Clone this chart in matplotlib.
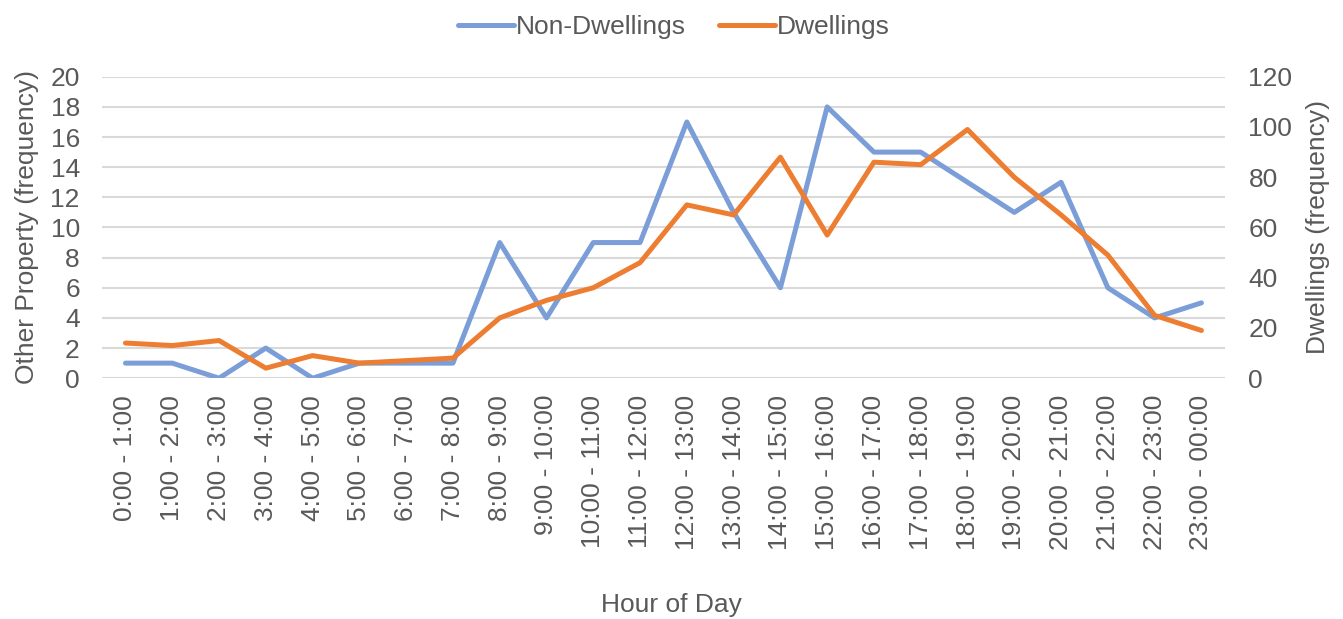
import matplotlib
matplotlib.use('Agg')
import matplotlib.pyplot as plt

plt.rcParams['font.family'] = ['Liberation Sans', 'DejaVu Sans']

hours = ['0:00 - 1:00', '1:00 - 2:00', '2:00 - 3:00', '3:00 - 4:00', '4:00 - 5:00',
         '5:00 - 6:00', '6:00 - 7:00', '7:00 - 8:00', '8:00 - 9:00', '9:00 - 10:00',
         '10:00 - 11:00', '11:00 - 12:00', '12:00 - 13:00', '13:00 - 14:00',
         '14:00 - 15:00', '15:00 - 16:00', '16:00 - 17:00', '17:00 - 18:00',
         '18:00 - 19:00', '19:00 - 20:00', '20:00 - 21:00', '21:00 - 22:00',
         '22:00 - 23:00', '23:00 - 00:00']
non_dwellings = [1, 1, 0, 2, 0, 1, 1, 1, 9, 4, 9, 9, 17, 11, 6, 18, 15, 15, 13, 11, 13, 6, 4, 5]
dwellings = [14, 13, 15, 4, 9, 6, 7, 8, 24, 31, 36, 46, 69, 65, 88, 57, 86, 85, 99, 80, 65, 49, 25, 19]

blue = '#7B9ED8'
orange = '#ED7D31'
grey = '#595959'
fs = 19

fig = plt.figure(figsize=(13.43, 6.19), dpi=100)
ax = fig.add_axes([0.076, 0.389, 0.836, 0.487])
ax2 = ax.twinx()

x = range(len(hours))
l1, = ax.plot(x, non_dwellings, color=blue, lw=3.6, solid_capstyle='round', label='Non-Dwellings')
l2, = ax2.plot(x, dwellings, color=orange, lw=3.6, solid_capstyle='round', label='Dwellings')

ax.set_ylim(0, 20)
ax.set_yticks(range(0, 21, 2))
ax2.set_ylim(0, 120)
ax2.set_yticks(range(0, 121, 20))
ax.set_xlim(-0.5, len(hours) - 0.5)
ax.set_xticks(list(x))
ax.set_xticklabels(hours, rotation=90)

ax.yaxis.grid(True, color='#D9D9D9', lw=1.5)
ax.set_axisbelow(True)
for a in (ax, ax2):
    for s in a.spines.values():
        s.set_visible(False)
    a.tick_params(length=0, labelsize=fs, colors=grey)
ax.tick_params(axis='y', pad=16)
ax2.tick_params(axis='y', pad=17)
ax.tick_params(axis='x', pad=12)

ax.set_ylabel('Other Property (frequency)', fontsize=fs, color=grey, labelpad=8)
ax2.set_ylabel('Dwellings (frequency)', fontsize=fs, color=grey, labelpad=10)
fig.text(0.5, 1 - 605 / 619, 'Hour of Day', fontsize=fs, color=grey, ha='center', va='center')

fig.legend(handles=[l1, l2], loc='center', bbox_to_anchor=(0.502, 1 - 27 / 619), ncol=2,
           frameon=False, fontsize=fs, labelcolor=grey, handlelength=2.1,
           handletextpad=0.1, columnspacing=1.25, borderpad=0)

fig.savefig('out.png', dpi=100)
